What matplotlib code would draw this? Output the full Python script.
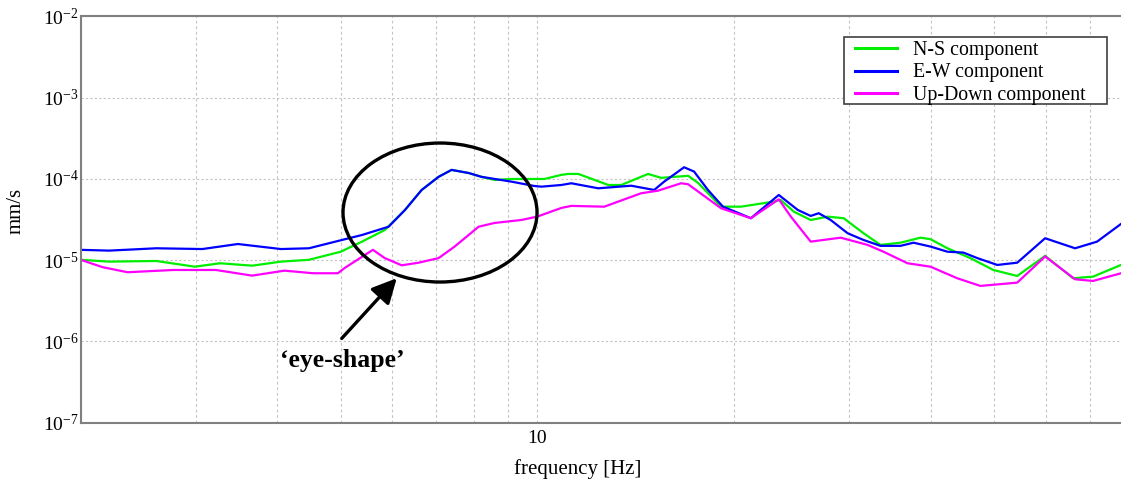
import math
import matplotlib
matplotlib.use('Agg')
import matplotlib.pyplot as plt
from matplotlib.patches import Ellipse, Rectangle
from matplotlib.ticker import LogLocator, FuncFormatter, NullFormatter

plt.rcParams['font.family'] = ['Liberation Serif', 'DejaVu Serif']
plt.rcParams['mathtext.fontset'] = 'custom'
plt.rcParams['mathtext.rm'] = 'Liberation Serif'
plt.rcParams['mathtext.default'] = 'regular'

# N-S component
ns_freq = [2.0, 2.21, 2.61, 2.99, 3.27, 3.66, 4.05, 4.47, 5.0, 5.39,
           5.84, 6.27, 6.65, 7.06, 7.39, 7.85, 8.21, 8.6, 9.13, 10.25,
           10.88, 11.15, 11.55, 12.84, 13.44, 14.77, 15.47, 17.01, 17.62, 19.1,
           20.49, 23.0, 23.57, 24.69, 26.2, 27.82, 29.43, 31.57, 33.5, 35.95,
           38.58, 39.96, 42.42, 45.99, 49.87, 54.25, 59.85, 66.05, 70.87, 78.2]
ns_vel = [1.01e-5, 9.59e-6, 9.77e-6, 8.31e-6, 9.16e-6, 8.55e-6, 9.59e-6, 1.01e-5, 1.27e-5, 1.69e-5,
          2.35e-5, 4.14e-5, 7.30e-5, 1.06e-4, 1.29e-4, 1.18e-4, 1.06e-4, 9.69e-5, 9.97e-5, 9.97e-5,
          1.12e-4, 1.15e-4, 1.15e-4, 8.41e-5, 8.41e-5, 1.15e-4, 1.03e-4, 1.09e-4, 8.91e-5, 4.55e-5,
          4.55e-5, 5.25e-5, 5.50e-5, 3.95e-5, 3.12e-5, 3.43e-5, 3.28e-5, 2.14e-5, 1.54e-5, 1.64e-5,
          1.89e-5, 1.81e-5, 1.40e-5, 1.06e-5, 7.57e-6, 6.39e-6, 1.13e-5, 5.98e-6, 6.27e-6, 8.73e-6]

# E-W component
ew_freq = [2.0, 2.21, 2.61, 3.07, 3.48, 4.05, 4.47, 5.02, 5.39, 5.92,
           6.27, 6.65, 7.06, 7.39, 7.85, 8.21, 9.13, 9.89, 10.14, 10.88,
           11.27, 12.39, 13.92, 15.09, 15.63, 16.77, 17.37, 18.24, 19.23, 21.22,
           23.41, 25.04, 26.2, 26.95, 28.11, 29.85, 31.57, 33.5, 35.95, 37.64,
           39.96, 42.42, 44.87, 47.13, 50.57, 54.25, 59.85, 66.52, 71.87, 78.2]
ew_vel = [1.34e-5, 1.31e-5, 1.40e-5, 1.37e-5, 1.58e-5, 1.37e-5, 1.40e-5, 1.77e-5, 2.04e-5, 2.58e-5,
          4.14e-5, 7.30e-5, 1.06e-4, 1.29e-4, 1.18e-4, 1.06e-4, 9.24e-5, 8.18e-5, 8.02e-5, 8.41e-5,
          8.83e-5, 7.66e-5, 8.24e-5, 7.30e-5, 9.24e-5, 1.39e-4, 1.23e-4, 7.30e-5, 4.55e-5, 3.28e-5,
          6.34e-5, 4.14e-5, 3.50e-5, 3.78e-5, 3.12e-5, 2.14e-5, 1.77e-5, 1.50e-5, 1.50e-5, 1.64e-5,
          1.47e-5, 1.27e-5, 1.24e-5, 1.06e-5, 8.73e-6, 9.31e-6, 1.86e-5, 1.40e-5, 1.69e-5, 2.79e-5]

# Up-Down component
ud_freq = [2.0, 2.16, 2.36, 2.77, 3.22, 3.66, 4.1, 4.54, 4.95, 5.07,
           5.6, 5.84, 6.2, 6.58, 7.06, 7.47, 8.13, 8.6, 9.45, 9.99,
           10.88, 11.27, 12.66, 14.41, 15.3, 16.59, 17.01, 19.1, 21.22, 23.41,
           24.43, 26.2, 29.12, 32.02, 33.86, 36.85, 39.96, 43.93, 47.64, 54.25,
           59.85, 66.52, 70.87, 78.2]
ud_vel = [1.01e-5, 8.2e-6, 7.10e-6, 7.57e-6, 7.57e-6, 6.45e-6, 7.43e-6, 6.90e-6, 6.90e-6, 8.01e-6,
          1.34e-5, 1.06e-5, 8.64e-6, 9.31e-6, 1.06e-5, 1.47e-5, 2.58e-5, 2.87e-5, 3.12e-5, 3.43e-5,
          4.39e-5, 4.65e-5, 4.55e-5, 6.65e-5, 7.16e-5, 8.83e-5, 8.59e-5, 4.35e-5, 3.28e-5, 5.61e-5,
          3.43e-5, 1.69e-5, 1.89e-5, 1.54e-5, 1.27e-5, 9.16e-6, 8.31e-6, 5.98e-6, 4.82e-6, 5.29e-6,
          1.11e-5, 5.82e-6, 5.55e-6, 6.90e-6]

labels = ['N-S component', 'E-W component', 'Up-Down component']
colors = ['#00ee00', '#0000ff', '#ff00ff']

fig = plt.figure(figsize=(11.21, 4.87), dpi=100)
ax = fig.add_axes([0.072, 0.132, 0.928, 0.8345])

ax.plot(ns_freq, ns_vel, color=colors[0], lw=1.6, label=labels[0])
ax.plot(ew_freq, ew_vel, color=colors[1], lw=1.6, label=labels[1])
ax.plot(ud_freq, ud_vel, color=colors[2], lw=1.6, label=labels[2])

ax.set_xscale('log')
ax.set_yscale('log')
ax.set_xlim(2.0, 78.2)
ax.set_ylim(1e-7, 1e-2)

ax.xaxis.set_major_locator(LogLocator(base=10))
ax.xaxis.set_minor_locator(LogLocator(base=10, subs=range(2, 10)))
ax.xaxis.set_major_formatter(FuncFormatter(lambda v, p: '%g' % v))
ax.xaxis.set_minor_formatter(NullFormatter())
ax.yaxis.set_major_locator(LogLocator(base=10, numticks=10))
ax.yaxis.set_minor_locator(LogLocator(base=10, subs=[]))
ax.yaxis.set_major_formatter(FuncFormatter(lambda v, p: '$10^{%d}$' % round(math.log10(v))))
ax.yaxis.set_minor_formatter(NullFormatter())

ax.tick_params(which='both', length=0, labelsize=14, colors='black')
ax.tick_params(axis='x', pad=5)
ax.tick_params(axis='y', pad=1.5)

ax.grid(which='both', axis='x', color='#c4c4c4', linestyle=(0, (2.5, 2.5)), lw=0.8)
ax.grid(which='major', axis='y', color='#c4c4c4', linestyle=(0, (2, 2)), lw=0.8)

for side in ['left', 'bottom', 'top']:
    ax.spines[side].set_color('#808080')
    ax.spines[side].set_linewidth(1.5)
ax.spines['right'].set_visible(False)

ax.set_xlabel('frequency [Hz]', fontsize=15)
ax.xaxis.set_label_coords(0.478, -0.09)
ax.set_ylabel('mm/s', fontsize=15)
ax.yaxis.set_label_coords(-0.053, 0.52)

# legend with square frame
ax.add_patch(Rectangle((0.7337, 0.7842), 0.2528, 0.1648, transform=ax.transAxes,
                       facecolor='white', edgecolor='#404040', lw=1.2, zorder=4.5))
leg = ax.legend(loc='upper left', bbox_to_anchor=(0.7443, 0.940), frameon=False,
                fontsize=14.3, borderpad=0, labelspacing=0.19,
                handlelength=2.1, handletextpad=0.8, borderaxespad=0)
leg.set_zorder(5)
for line in leg.get_lines():
    line.set_linewidth(2.2)

# eye-shape annotation
ax.add_patch(Ellipse((0.3454, 0.5172), 0.1865, 0.342, transform=ax.transAxes,
                     fill=False, edgecolor='black', lw=2.4, zorder=6))
ax.annotate('', xy=(0.3038, 0.3556), xytext=(0.2509, 0.2074),
            xycoords='axes fraction', textcoords='axes fraction',
            arrowprops=dict(arrowstyle='-|>,head_length=0.5,head_width=0.25',
                            mutation_scale=30, color='black', lw=2.4,
                            shrinkA=0, shrinkB=0))
ax.text(0.2517, 0.1378, '\u2018eye-shape\u2019', transform=ax.transAxes,
        fontsize=18.5, fontweight='bold', ha='center', va='baseline')

fig.savefig('out.png', dpi=100)
